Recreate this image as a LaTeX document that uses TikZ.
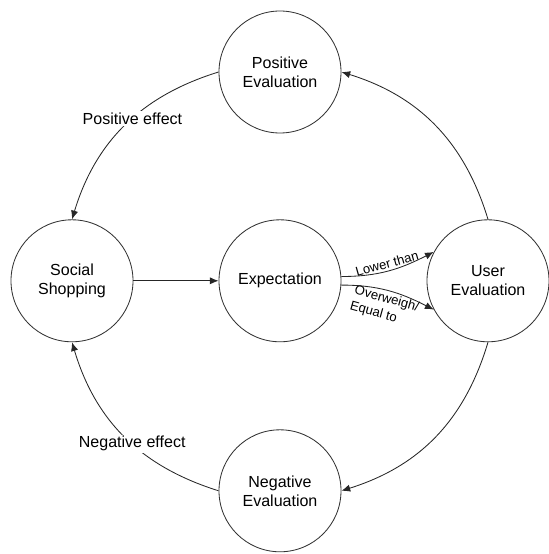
\documentclass[tikz,border=0pt]{standalone}
\usepackage{fontspec}
\setmainfont{Liberation Sans}
\usetikzlibrary{arrows.meta}

\begin{document}
\begin{tikzpicture}[
    state/.style={circle, draw=black!80, line width=0.6pt, minimum size=3.05cm,
      align=center, font=\fontsize{11.4}{13.5}\selectfont},
    arr/.style={-{Latex[length=2.2mm,width=1.8mm]}, line width=0.6pt, draw=black!85},
    effect/.style={font=\fontsize{11.4}{13.5}\selectfont, fill=white, inner sep=1pt},
    cmp/.style={font=\fontsize{9.3}{11.8}\selectfont, inner sep=1.5pt}
  ]
  \useasboundingbox (0,0) rectangle (13.7,13.85);

  % States
  \node[state] (pe) at (7.0, 12.05) {Positive\\Evaluation};
  \node[state] (ss) at (1.8, 6.83) {Social\\Shopping};
  \node[state] (ex) at (7.0, 6.83) {Expectation};
  \node[state] (ue) at (12.2, 6.83) {User\\Evaluation};
  \node[state] (ne) at (7.0, 1.58) {Negative\\Evaluation};

  % Main flow
  \draw[arr] (ss) -- (ex);
  \draw[arr] (ex.4) to[out=0, in=207] node[cmp, midway, above, sloped] {Lower than} (ue.152);
  \draw[arr] (ex.-4) to[out=0, in=153] node[cmp, midway, below, sloped, align=left] {Overweigh/\\Equal to} (ue.208);

  % Feedback loops
  \draw[arr] (ue.north) to[bend right=28] (pe.east);
  \draw[arr] (pe.west) to[bend right=28] node[effect, pos=0.45] {Positive effect} (ss.north);
  \draw[arr] (ue.south) to[bend left=28] (ne.east);
  \draw[arr] (ne.west) to[bend left=28] node[effect, pos=0.45] {Negative effect} (ss.south);
\end{tikzpicture}
\end{document}
